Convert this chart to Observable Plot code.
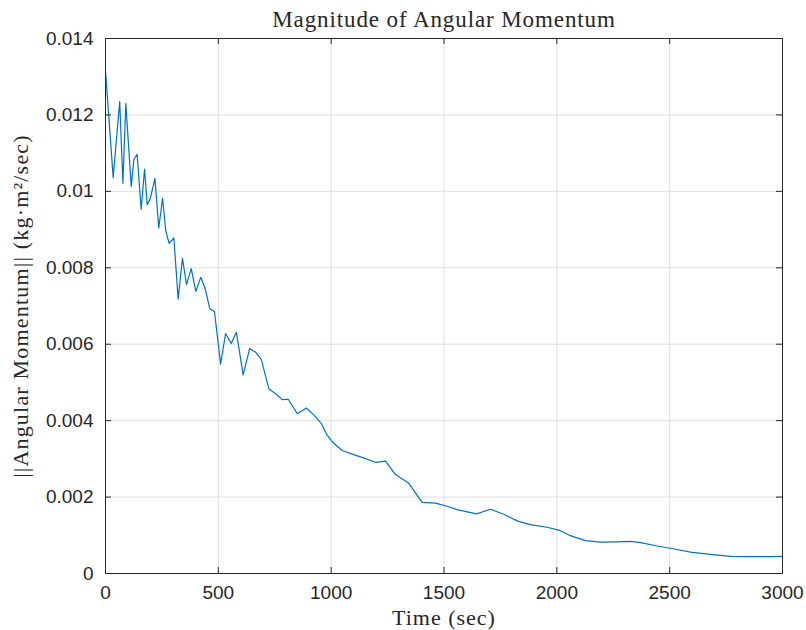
<!DOCTYPE html>
<html>
<head>
<meta charset="utf-8">
<script src="https://cdn.jsdelivr.net/npm/d3@7"></script>
<script src="https://cdn.jsdelivr.net/npm/@observablehq/plot@0.6"></script>
<style>
  html, body { margin: 0; padding: 0; background: #fff; }
  #chart svg { display: block; }
</style>
</head>
<body>
<div id="chart"></div>
<script>
const timeSec = [0, 34, 63, 77, 90, 114, 126, 140, 158, 173, 185, 199, 219, 236, 253, 267, 282, 303, 322, 341,
  359, 380, 400, 422, 442, 462, 483, 510, 532, 557, 580, 610, 639, 665, 690, 724, 753, 783, 810, 850,
  890, 923, 956, 979, 1009, 1049, 1100, 1137, 1196, 1241, 1285, 1344, 1403, 1462, 1514, 1558, 1644, 1706, 1765, 1827,
  1883, 1957, 2016, 2060, 2127, 2193, 2267, 2326, 2371, 2445, 2503, 2592, 2681, 2769, 2858, 2946, 3000];
const angMomentum = [0.01315, 0.01036, 0.01235, 0.01021, 0.0123, 0.01013, 0.01084, 0.01097, 0.00953, 0.01058,
  0.00965, 0.00982, 0.01034, 0.00904, 0.00982, 0.00897, 0.00864, 0.00878, 0.00718, 0.00825,
  0.00756, 0.00798, 0.00738, 0.00775, 0.00745, 0.00693, 0.00685, 0.00548, 0.00628, 0.00602,
  0.00631, 0.0052, 0.00589, 0.00579, 0.00561, 0.00483, 0.00471, 0.00455, 0.00456, 0.00418,
  0.00433, 0.00415, 0.00393, 0.00365, 0.00342, 0.00322, 0.00311, 0.00304, 0.00291, 0.00294,
  0.00259, 0.00236, 0.00186, 0.00184, 0.00176, 0.00167, 0.00156, 0.00168, 0.00155, 0.00137,
  0.00128, 0.00121, 0.00112, 0.00099, 0.00086, 0.00082, 0.00083, 0.00084, 0.00081, 0.00072,
  0.00066, 0.00056, 0.0005, 0.00045, 0.00044, 0.00044, 0.00045];
const xTicks = [0, 500, 1000, 1500, 2000, 2500, 3000];
const yTicks = [0, 0.002, 0.004, 0.006, 0.008, 0.01, 0.012, 0.014];
const titleText = "Magnitude of Angular Momentum";
const xLabel = "Time (sec)";
const yLabel = "||Angular Momentum|| (kg\u00B7m\u00B2/sec)";

const data = timeSec.map((t, i) => ({t, v: angMomentum[i]}));

const W = 806, H = 630;
const mT = 38, mB = 57, mL = 105, mR = 24;
const plotW = W - mL - mR, plotH = H - mT - mB;
const tickLen = 6;
const frameColor = "#262626";
const serif = "'Liberation Serif', 'DejaVu Serif', serif";
const sans = "'Liberation Sans', Arial, sans-serif";

const chart = Plot.plot({
  width: W, height: H,
  marginTop: mT, marginBottom: mB, marginLeft: mL, marginRight: mR,
  style: {fontFamily: sans, background: "#fff"},
  x: {domain: [0, 3000]},
  y: {domain: [0, 0.014]},
  marks: [
    Plot.gridX(xTicks, {stroke: "#dfdfdf", strokeOpacity: 1, strokeWidth: 1}),
    Plot.gridY(yTicks, {stroke: "#dfdfdf", strokeOpacity: 1, strokeWidth: 1}),
    Plot.line(data, {x: "t", y: "v", stroke: "#0072BD", strokeWidth: 1.2}),
    // inward tick marks on all four sides (MATLAB box style)
    Plot.tickX(xTicks, {x: d => d, stroke: frameColor, insetTop: plotH - tickLen}),
    Plot.tickX(xTicks, {x: d => d, stroke: frameColor, insetBottom: plotH - tickLen}),
    Plot.tickY(yTicks, {y: d => d, stroke: frameColor, insetRight: plotW - tickLen}),
    Plot.tickY(yTicks, {y: d => d, stroke: frameColor, insetLeft: plotW - tickLen}),
    Plot.frame({stroke: frameColor, strokeWidth: 1}),
    Plot.axisX(xTicks, {tickSize: 0, tickPadding: 12, fontSize: 19, label: null, fill: "#262626",
      tickFormat: d => String(d)}),
    Plot.axisY(yTicks, {tickSize: 0, tickPadding: 12, fontSize: 19, label: null, fill: "#262626",
      tickFormat: d => String(+d.toFixed(3))}),
    Plot.text([titleText], {text: d => d, frameAnchor: "top", lineAnchor: "middle", dy: -19, fontSize: 23, fontFamily: serif, fill: "#262626"}),
    Plot.text([xLabel], {text: d => d, frameAnchor: "bottom", lineAnchor: "middle", dy: 44, fontSize: 22, fontFamily: serif, fill: "#262626"}),
    Plot.text([yLabel], {text: d => d, frameAnchor: "left", textAnchor: "middle", lineAnchor: "middle", dx: -85, rotate: -90, fontSize: 22, fontFamily: serif, fill: "#262626"})
  ]
});
// widen the serif labels a little to mimic the LaTeX (Computer Modern) rendering
d3.select(chart).selectAll("text").each(function () {
  const s = this.textContent;
  if (s === yLabel) this.style.letterSpacing = "1.2px";
  if (s === xLabel) this.style.letterSpacing = "1px";
  if (s === titleText) this.style.letterSpacing = "0.9px";
});
document.getElementById("chart").appendChild(chart);
</script>
</body>
</html>
